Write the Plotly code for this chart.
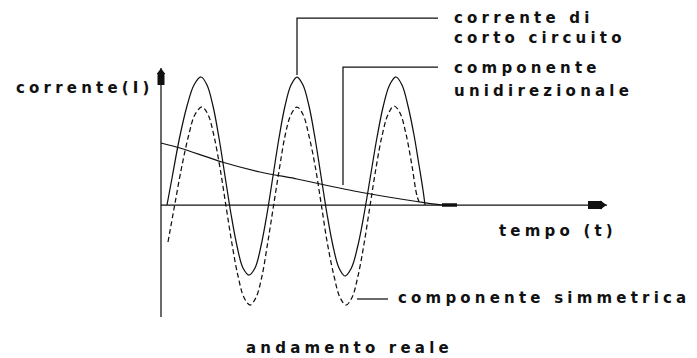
import plotly.graph_objects as go

# ---- data (t in arbitrary time units, I in arbitrary current units) ----
# corrente di corto circuito (solid line)
CC_T = [6, 11.4, 18.5, 26, 33, 40, 46, 52, 58, 64, 70, 76, 82, 88,
        94, 100, 106, 112, 118, 124, 130, 136, 142, 148, 154, 160, 166, 172, 178, 184,
        190.4, 196.8, 203.1, 209.5, 215.9, 222.3, 228.6, 235, 241, 247, 253, 258, 262, 264]
CC_I = [0, 29, 67, 99, 120, 128, 120, 99, 67, 29, -9, -41, -63, -70,
        -63, -41, -9, 29, 67, 99, 120, 128, 120, 99, 67, 29, -9, -41, -63, -71,
        -63, -41, -9, 29, 67, 99, 120, 128, 120, 99, 70, 40, 15, 0]

# componente simmetrica (dashed line)
SYM_T = [7, 13.5, 20.5, 27.5, 34, 41, 47, 53, 59, 65, 71, 77, 83, 89,
         95, 101, 106.5, 112.5, 118.5, 124, 130, 136, 142, 148, 154.5, 160.5, 166.5, 173, 179, 185,
         191, 197, 203, 209, 215, 221, 227, 233, 239, 245, 251, 256, 259]
SYM_I = [-37, -1, 37, 69, 90.5, 98, 90.5, 69, 37, -1, -39, -71, -92.5, -100,
         -92.5, -71, -39, -1, 37, 69, 90.5, 98, 90.5, 69, 37, -1, -39, -71, -92.5, -100,
         -92.5, -71, -39, -1, 37, 69, 90.5, 99, 92, 71, 39, 9, 1]

# componente unidirezionale (decaying line)
DC_T = [0, 19, 61, 99, 136, 164, 204, 259, 281, 296]
DC_I = [62, 57, 43, 33, 26, 20, 12, 3, 0, 0]

# axis extents
T_AXIS = [0, 446]
I_AXIS = [-112, 137]

# texts
Y_LABEL = "corrente(I)"
X_LABEL = "tempo (t)"
CC_LABEL = ["corrente di", "corto circuito"]
DC_LABEL = ["componente", "unidirezionale"]
SYM_LABEL = "componente simmetrica"
TITLE = "andamento reale"

# ---- styles ----
INK = "#111111"
LW = 1.25
FONT = dict(family="DejaVu Sans", size=15, color=INK, weight="bold")
LS = 4.2  # letter spacing px

fig = go.Figure()

# axes
fig.add_trace(go.Scatter(x=T_AXIS, y=[0, 0], mode="lines",
                         line=dict(color=INK, width=LW), hoverinfo="skip"))
fig.add_trace(go.Scatter(x=[0, 0], y=I_AXIS, mode="lines",
                         line=dict(color=INK, width=LW), hoverinfo="skip"))
# arrow heads
fig.add_trace(go.Scatter(x=[T_AXIS[1] - 19, T_AXIS[1] - 5], y=[0, 0], mode="lines",
                         line=dict(color=INK, width=8), hoverinfo="skip"))
fig.add_trace(go.Scatter(x=[T_AXIS[1] - 4.5], y=[0], mode="markers",
                         marker=dict(symbol="triangle-right", size=8, color=INK), hoverinfo="skip"))
fig.add_trace(go.Scatter(x=[0, 0], y=[I_AXIS[1] - 17, I_AXIS[1] - 5], mode="lines",
                         line=dict(color=INK, width=7), hoverinfo="skip"))
fig.add_trace(go.Scatter(x=[0], y=[I_AXIS[1] - 4], mode="markers",
                         marker=dict(symbol="triangle-up", size=7.5, color=INK), hoverinfo="skip"))

# series
fig.add_trace(go.Scatter(x=DC_T, y=DC_I, mode="lines", name="componente unidirezionale",
                         line=dict(color=INK, width=LW, shape="spline", smoothing=0.6)))
fig.add_trace(go.Scatter(x=DC_T[-2:], y=DC_I[-2:], mode="lines", showlegend=False,
                         line=dict(color=INK, width=3.5), hoverinfo="skip"))
fig.add_trace(go.Scatter(x=SYM_T, y=SYM_I, mode="lines", name="componente simmetrica",
                         line=dict(color=INK, width=LW, dash="5px,3px", shape="spline", smoothing=1.0)))
fig.add_trace(go.Scatter(x=CC_T, y=CC_I, mode="lines", name="corrente di corto circuito",
                         line=dict(color=INK, width=LW, shape="spline", smoothing=1.0)))

# callout leader lines
LBL_X = 292
peak_i = CC_I.index(max(CC_I), 10)
cc_t = CC_T[peak_i]
cc_top = 187
dc_t = 182
dc_top = 138
dc_at = 20
sym_y = -94
shape_line = dict(color=INK, width=LW)
fig.add_shape(type="path", xref="x", yref="y",
              path=f"M{cc_t},{CC_I[peak_i] + 2} L{cc_t},{cc_top} L{LBL_X - 15},{cc_top}",
              line=shape_line)
fig.add_shape(type="path", xref="x", yref="y",
              path=f"M{dc_t},{dc_at} L{dc_t},{dc_top} L{LBL_X - 15},{dc_top}",
              line=shape_line)
fig.add_shape(type="line", xref="x", yref="y", x0=196, x1=227, y0=sym_y, y1=sym_y,
              line=shape_line)


def label(text, x, y_base, xanchor="left"):
    fig.add_annotation(text=f'<span style="letter-spacing:{LS}px">{text}</span>',
                       x=x, y=y_base + 5.2, xref="x", yref="y", xanchor=xanchor,
                       yanchor="middle", showarrow=False, font=FONT, borderpad=0)


label(Y_LABEL, -146, 112)
label(CC_LABEL[0], LBL_X, 182)
label(CC_LABEL[1], LBL_X, 162)
label(DC_LABEL[0], LBL_X, 132)
label(DC_LABEL[1], LBL_X, 109)
label(X_LABEL, 337, -31)
label(SYM_LABEL, 236, -98)
label(TITLE, 84, -148)

# the page body has an 8px margin: the figure is sized and ranged to compensate
fig.update_layout(
    width=689, height=350, autosize=False,
    margin=dict(l=0, r=0, t=0, b=0),
    paper_bgcolor="white", plot_bgcolor="white",
    showlegend=False,
    xaxis=dict(range=[-153, 536], visible=False, fixedrange=True),
    yaxis=dict(range=[-153, 197], visible=False, fixedrange=True),
)

fig.write_html("out.html")
